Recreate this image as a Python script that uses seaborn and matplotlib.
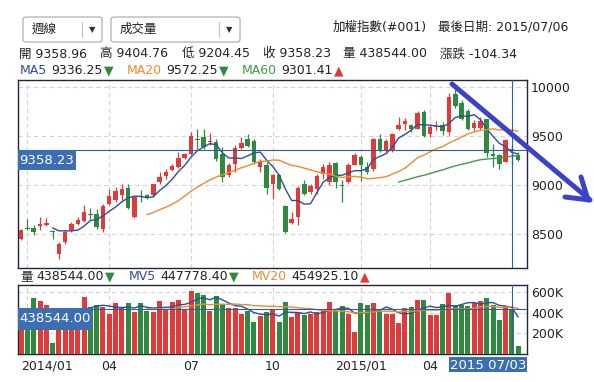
import numpy as np
import pandas as pd
import matplotlib
matplotlib.use("Agg")
import matplotlib.pyplot as plt
import seaborn as sns
from matplotlib.patches import Rectangle, FancyBboxPatch
from matplotlib.lines import Line2D
from matplotlib.transforms import ScaledTranslation

# ---------------- data (weekly TAIEX) ----------------
opens = [8444, 8563, 8563, 8580, 8594, 8533, 8297, 8417, 8536, 8604,
         8628, 8707, 8707, 8553, 8802, 8843, 8894, 8969, 8672, 8887,
         8894, 8894, 9031, 9089, 9150, 9184, 9277, 9321, 9475, 9492,
         9440, 9440, 9321, 9099, 9219, 9382, 9468, 9447, 9184, 9208,
         9014, 9099, 8785, 8614, 8672, 9007, 8928, 8963, 9116, 9031,
         9225, 8997, 9031, 9208, 9287, 9184, 9160, 9468, 9355, 9355,
         9570, 9628, 9618, 9577, 9748, 9526, 9594, 9611, 9543, 9935,
         9843, 9758, 9587, 9584, 9672, 9314, 9304, 9236, 9358.96, 9311]
highs = [8553, 8655, 8587, 8672, 8662, 8536, 8417, 8536, 8621, 8672,
         8792, 8765, 8758, 8809, 8963, 8980, 9014, 9014, 8880, 8945,
         8911, 9014, 9133, 9160, 9219, 9338, 9331, 9543, 9577, 9577,
         9536, 9468, 9389, 9229, 9406, 9492, 9526, 9468, 9270, 9236,
         9116, 9116, 8799, 8724, 8990, 9048, 9014, 9116, 9219, 9236,
         9236, 9048, 9229, 9331, 9304, 9236, 9481, 9526, 9475, 9536,
         9696, 9686, 9628, 9754, 9765, 9611, 9652, 9645, 9945, 9980,
         9867, 9782, 9662, 9696, 9679, 9416, 9321, 9475, 9404.76, 9338]
lows = [8434, 8536, 8492, 8536, 8577, 8451, 8246, 8399, 8519, 8594,
        8621, 8655, 8553, 8519, 8792, 8826, 8843, 8751, 8665, 8826,
        8853, 8877, 9014, 9065, 9140, 9174, 9263, 9311, 9372, 9372,
        9410, 9242, 9031, 9082, 9133, 9372, 9389, 9219, 9133, 8911,
        8860, 8945, 8512, 8604, 8587, 8894, 8911, 8911, 9065, 8997,
        8969, 8826, 9025, 9201, 9038, 9116, 9140, 9338, 9338, 9338,
        9560, 9560, 9543, 9570, 9492, 9492, 9560, 9509, 9509, 9789,
        9662, 9560, 9550, 9560, 9287, 9184, 9167, 9236, 9204.45, 9250]
closes = [8536, 8553, 8519, 8604, 8608, 8522, 8399, 8519, 8604, 8645,
          8724, 8690, 8570, 8785, 8887, 8935, 8963, 8765, 8877, 8874,
          8874, 9007, 9082, 9133, 9195, 9277, 9321, 9502, 9457, 9389,
          9450, 9263, 9082, 9201, 9379, 9430, 9399, 9236, 9242, 8969,
          9099, 8963, 8519, 8655, 8969, 8911, 8986, 9089, 9184, 9208,
          9031, 8986, 9208, 9304, 9201, 9133, 9468, 9355, 9447, 9526,
          9611, 9652, 9577, 9737, 9502, 9594, 9604, 9550, 9901, 9806,
          9679, 9577, 9635, 9652, 9331, 9297, 9219, 9462.57, 9358.23, 9253]
volumes = [400000, 410000, 545000, 516000, 473000, 105000, 390000, 400000, 410000, 420000,
           552000, 457000, 473000, 457000, 385000, 496000, 441000, 496000, 408000, 496000,
           418000, 408000, 516000, 425000, 506000, 522000, 434000, 613000, 587000, 571000,
           418000, 561000, 480000, 441000, 441000, 392000, 418000, 311000, 369000, 408000,
           434000, 311000, 506000, 359000, 398000, 382000, 392000, 405000, 437000, 502000,
           421000, 463000, 389000, 210000, 496000, 476000, 496000, 421000, 389000, 389000,
           300000, 444000, 454000, 519000, 519000, 379000, 379000, 486000, 593000, 470000,
           470000, 463000, 496000, 512000, 542000, 476000, 327000, 463000, 438544, 80000]

tick_idx = [1, 14, 27, 40, 54, 65]
tick_labels = ["2014/01", "04", "07", "10", "2015/01", "04"]
price_ticks = [8500, 9000, 9500, 10000]
vol_ticks = [200000, 400000, 600000]
vol_tick_labels = ["200K", "400K", "600K"]
cross_index = 78
cross_date = "2015 07/03"

# ---------------- style ----------------
sns.set_style("white")
plt.rcParams["font.family"] = ["DejaVu Sans", "Noto Sans CJK TC"]
plt.rcParams["axes.unicode_minus"] = False

RED = "#e03a3a"
GREEN = "#2e8a3e"
BLUE = "#2c4f98"
ORANGE = "#f08a2c"
MA60C = "#3f9a50"
CROSS = "#2f5f9e"
BOX = "#3b6fb1"
FRAME = "#1c2838"
GRID = "#d4d4d4"
TXT = "#222222"
FS = 9

W, H = 594, 382
fig = plt.figure(figsize=(W / 100, H / 100), dpi=100)
fig.patch.set_facecolor("white")


def fx(x):
    return x / W


def fy(y):
    return 1 - y / H


ax = fig.add_axes([fx(18), fy(268), (527 - 18) / W, (268 - 80) / H])
axv = fig.add_axes([fx(18), fy(354), (527 - 18) / W, (354 - 285) / H])

n = len(closes)
idx = np.arange(n)
o = np.array(opens, float)
c = np.array(closes, float)
hi = np.array(highs, float)
lo = np.array(lows, float)
up = c > o
cols = np.where(up, RED, GREEN)

cs = pd.Series(c)
ma5 = cs.rolling(5).mean(); ma5.iloc[:5] = np.nan
ma20 = cs.rolling(20).mean(); ma20.iloc[:20] = np.nan
ma60 = cs.rolling(60).mean(); ma60.iloc[:60] = np.nan
vs = pd.Series(np.array(volumes, float))
mv5 = vs.rolling(5).mean(); mv5.iloc[:5] = np.nan
mv20 = vs.rolling(20).mean(); mv20.iloc[:20] = np.nan

# ---------------- main price panel ----------------
ax.vlines(idx, lo, hi, colors=cols, linewidth=0.9, zorder=3)
ax.bar(idx, np.maximum(np.abs(c - o), 6), bottom=np.minimum(o, c), width=0.72,
       color=cols, linewidth=0, zorder=4)
sns.lineplot(x=idx, y=ma5.values, ax=ax, color=BLUE, linewidth=1.0, zorder=5)
sns.lineplot(x=idx, y=ma20.values, ax=ax, color=ORANGE, linewidth=1.0, zorder=5)
sns.lineplot(x=idx, y=ma60.values, ax=ax, color=MA60C, linewidth=1.0, zorder=5)

ax.set_xlim(-0.5, 80.4)
ax.set_ylim(8150, 10075)
ax.set_xticks(tick_idx)
ax.set_yticks(price_ticks)
ax.tick_params(axis="x", length=0, labelbottom=False)
ax.yaxis.tick_right()
ax.tick_params(axis="y", length=0, pad=3, labelsize=FS, labelcolor=TXT)
ax.grid(True, color=GRID, linestyle=(0, (4, 3)), linewidth=0.8)
ax.set_axisbelow(True)
ax.set_xlabel("")
ax.set_ylabel("")
for s in ax.spines.values():
    s.set_visible(True)
    s.set_color(FRAME)
    s.set_linewidth(1.0)

ax.axvline(cross_index, color=CROSS, linewidth=0.8, zorder=6)
ax.axhline(closes[cross_index], color=CROSS, linewidth=0.8, zorder=6)

# ---------------- volume panel ----------------
vdf = pd.DataFrame({"idx": idx, "vol": volumes, "dir": np.where(up, "up", "down")})
sns.barplot(data=vdf, x="idx", y="vol", hue="dir", palette={"up": RED, "down": GREEN},
            native_scale=True, dodge=False, width=0.8, saturation=1, errorbar=None,
            legend=False, ax=axv, linewidth=0, zorder=3)
sns.lineplot(x=idx, y=mv5.values, ax=axv, color=BLUE, linewidth=1.0, zorder=5)
sns.lineplot(x=idx, y=mv20.values, ax=axv, color=ORANGE, linewidth=1.0, zorder=5)

axv.set_xlim(-0.5, 80.4)
axv.set_ylim(0, 668000)
axv.set_yticks(vol_ticks, labels=vol_tick_labels)
axv.yaxis.tick_right()
axv.tick_params(axis="y", length=0, pad=3, labelsize=FS, labelcolor=TXT)
axv.set_xticks(tick_idx, labels=tick_labels)
axv.tick_params(axis="x", length=0, pad=4, labelsize=FS, labelcolor=TXT)
first = axv.get_xticklabels()[0]
first.set_ha("left")
first.set_transform(first.get_transform() + ScaledTranslation(-0.06, 0, fig.dpi_scale_trans))
axv.grid(True, color=GRID, linestyle=(0, (4, 3)), linewidth=0.8)
axv.set_axisbelow(True)
axv.set_xlabel("")
axv.set_ylabel("")
for s in axv.spines.values():
    s.set_visible(True)
    s.set_color(FRAME)
    s.set_linewidth(1.0)
axv.axvline(cross_index, color=CROSS, linewidth=0.8, zorder=6)
axv.axhline(volumes[cross_index], color=CROSS, linewidth=0.8, zorder=6)

# ---------------- crosshair labels ----------------
def box_label(x0, y0, x1, y1, text):
    fig.add_artist(Rectangle((fx(x0), fy(y1)), (x1 - x0) / W, (y1 - y0) / H,
                             transform=fig.transFigure, facecolor=BOX, edgecolor="none", zorder=10))
    fig.text(fx((x0 + x1) / 2), fy((y0 + y1) / 2), text, color="white", fontsize=FS + 0.5,
             ha="center", va="center", zorder=11)

box_label(18, 150, 76, 170, f"{closes[cross_index]:.2f}")
box_label(18, 308, 92, 330, f"{volumes[cross_index]:.2f}")
box_label(449, 357, 527, 372, cross_date)

# ---------------- header texts ----------------
renderer = fig.canvas.get_renderer()


def seq(x, y, parts, gaps):
    for (s, colr), g in zip(parts, gaps):
        x += g
        t = fig.text(fx(x), fy(y), s, color=colr, fontsize=FS, ha="left", va="center")
        x += t.get_window_extent(renderer).width


fig.text(fx(333), fy(27), "加權指數(#001)", color=TXT, fontsize=FS, ha="left", va="center")
fig.text(fx(438), fy(27), "最後日期: 2015/07/06", color=TXT, fontsize=FS, ha="left", va="center")

line1 = [(19, f"開 {opens[cross_index]:.2f}"), (100, f"高 {highs[cross_index]:.2f}"),
         (182, f"低 {lows[cross_index]:.2f}"), (263, f"收 {closes[cross_index]:.2f}"),
         (343, f"量 {volumes[cross_index]:.2f}"), (440, "漲跌 -104.34")]
for x, s in line1:
    fig.text(fx(x), fy(54), s, color=TXT, fontsize=FS, ha="left", va="center")

seq(20, 71, [("MA5", BLUE), ("9336.25", TXT), ("▼", GREEN)], [0, 4, 1])
seq(127, 71, [("MA20", ORANGE), ("9572.25", TXT), ("▼", GREEN)], [0, 4, 1])
seq(242, 71, [("MA60", MA60C), ("9301.41", TXT), ("▲", RED)], [0, 4, 1])

seq(20, 277, [("量", TXT), ("438544.00", TXT), ("▼", GREEN)], [0, 4, 1])
seq(129, 277, [("MV5", BLUE), ("447778.40", TXT), ("▼", GREEN)], [0, 4, 1])
seq(252, 277, [("MV20", ORANGE), ("454925.10", TXT), ("▲", RED)], [0, 4, 1])

# ---------------- dropdown selectors ----------------
def dropdown(x0, x1, sep, label):
    fig.add_artist(FancyBboxPatch((fx(x0), fy(42)), (x1 - x0) / W, 25 / H,
                                  boxstyle="round,pad=0,rounding_size=0.006",
                                  transform=fig.transFigure, facecolor="white",
                                  edgecolor="#a8a8a8", linewidth=0.8))
    fig.add_artist(Line2D([fx(sep), fx(sep)], [fy(22), fy(37)], transform=fig.transFigure,
                          color="#c0c0c0", linewidth=0.8))
    fig.text(fx(x0 + 9), fy(29.5), label, color=TXT, fontsize=FS, ha="left", va="center")
    fig.text(fx((sep + x1) / 2), fy(30), "▼", color="#333333", fontsize=6, ha="center", va="center")

dropdown(23, 102, 82, "週線")
dropdown(111, 240, 219, "成交量")

# ---------------- hand-drawn arrow annotation ----------------
AR = "#3a42c6"
for (xa, ya), (xb, yb) in [((452, 84), (589, 199)), ((581, 177), (588, 200)), ((565, 197), (590, 200))]:
    fig.add_artist(Line2D([fx(xa), fx(xb)], [fy(ya), fy(yb)], transform=fig.transFigure,
                          color=AR, linewidth=3.6, solid_capstyle="round", zorder=20))

fig.savefig("out.png", dpi=100, facecolor="white")
